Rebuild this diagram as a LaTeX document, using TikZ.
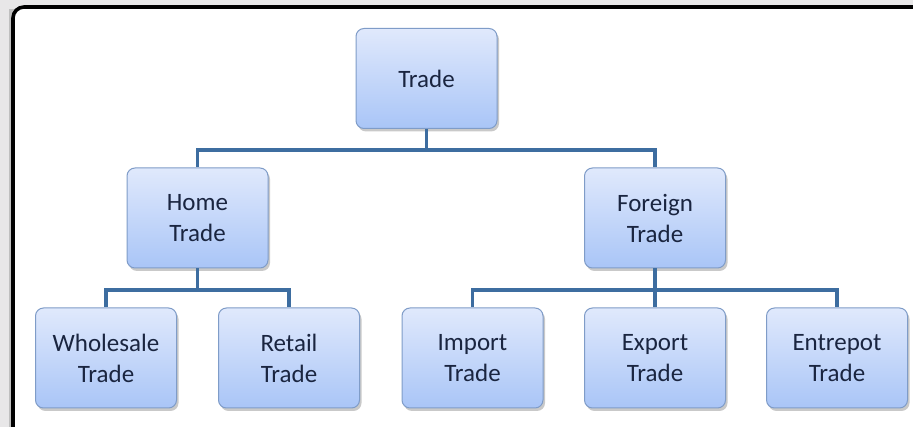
\documentclass[tikz,border=0pt]{standalone}
\usepackage{fontspec}
\setmainfont{Carlito}
\usetikzlibrary{shadows}
\definecolor{bgout}{HTML}{E8E7E8}
\definecolor{conncol}{HTML}{3D6DA0}
\definecolor{boxtop}{HTML}{E0E9FC}
\definecolor{boxbot}{HTML}{A9C5F7}
\definecolor{boxedge}{HTML}{7F9CC8}
\definecolor{txt}{HTML}{1A2540}
\tikzset{
  tbox/.style={draw=boxedge, line width=1pt, rounded corners=8pt,
    top color=boxtop, bottom color=boxbot,
    minimum width=141pt, minimum height=100pt, inner sep=0pt,
    align=center, text=txt, font=\fontsize{25}{31}\selectfont,
    drop shadow={shadow xshift=2pt, shadow yshift=-3pt, opacity=0.35, fill=black!60}},
  conn/.style={draw=conncol, line width=3.2pt}
}
\begin{document}
\begin{tikzpicture}[x=1pt,y=-1pt]
\useasboundingbox (0,0) rectangle (913,427);
\clip (0,0) rectangle (913,427);
\fill[bgout] (0,0) rectangle (913,427);
\fill[black!25] (9,9) rectangle (30,440);
\draw[line width=3.6pt, fill=white, rounded corners=11pt] (13,7) rectangle (960,470);

\node[tbox] (trade) at (426.5,78.5) {Trade};
\node[tbox] (home) at (197.5,218) {Home\\Trade};
\node[tbox] (foreign) at (655,218) {Foreign\\Trade};
\node[tbox] (whole) at (106,358) {Wholesale\\Trade};
\node[tbox] (retail) at (289,358) {Retail\\Trade};
\node[tbox] (import) at (472.5,358) {Import\\Trade};
\node[tbox] (export) at (655,358) {Export\\Trade};
\node[tbox] (entre) at (837,358) {Entrepot\\Trade};

\coordinate (j1) at (426.5,150);
\coordinate (j2) at (197.5,290);
\coordinate (j3) at (655,290);

\draw[conn] (trade.south) -- (j1) -| (home.north);
\draw[conn] (j1) -| (foreign.north);
\draw[conn] (home.south) -- (j2) -| (whole.north);
\draw[conn] (j2) -| (retail.north);
\draw[conn] (foreign.south) -- (j3) -| (import.north);
\draw[conn] (j3) -| (export.north);
\draw[conn] (j3) -| (entre.north);
\end{tikzpicture}
\end{document}
